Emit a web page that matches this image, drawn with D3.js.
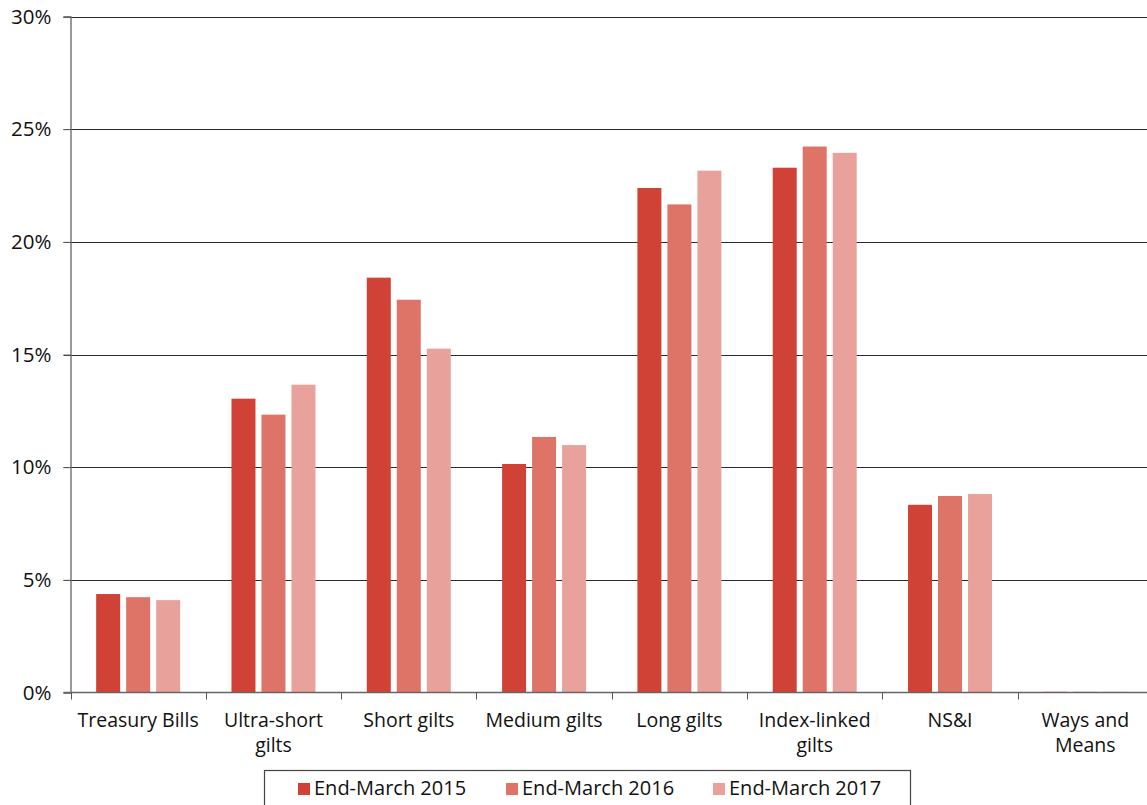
<!DOCTYPE html>
<html>
<head>
<meta charset="utf-8">
<script src="https://cdn.jsdelivr.net/npm/d3@7"></script>
<style>
	body { margin: 0; background: #fff; }
	text { font-family: "Open Sans", "Noto Sans", sans-serif; fill: #111; }
</style>
</head>
<body>
<div id="chart-area"></div>
<script>
// Data
let categories = [
	["Treasury Bills"],
	["Ultra-short", "gilts"],
	["Short gilts"],
	["Medium gilts"],
	["Long gilts"],
	["Index-linked", "gilts"],
	["NS&I"],
	["Ways and", "Means"]
];
let seriesNames = ["End-March 2015", "End-March 2016", "End-March 2017"];
let values2015 = [4.37, 13.04, 18.41, 10.14, 22.39, 23.29, 8.33, 0.03];
let values2016 = [4.23, 12.33, 17.43, 11.34, 21.66, 24.23, 8.72, 0.03];
let values2017 = [4.10, 13.66, 15.26, 10.98, 23.16, 23.95, 8.81, 0.03];
let yTicks = [0, 5, 10, 15, 20, 25, 30];

let colors = ["#d04236", "#de7367", "#e8a29b"];
let allValues = [values2015, values2016, values2017];

// SVG Size
let width = 1147,
	height = 805;

let plotLeft = 70.5,
	plotRight = 1153,
	plotTop = 16.5,
	plotBottom = 692.5;

let svg = d3.select("#chart-area").append("svg")
	.attr("width", width)
	.attr("height", height);

let catKeys = categories.map(c => c.join(" "));

let XScale = d3.scaleBand()
	.domain(catKeys)
	.range([plotLeft, plotRight]);

let innerScale = d3.scaleBand()
	.domain(seriesNames)
	.range([0, 84])
	.paddingInner(0.2);

let YScale = d3.scaleLinear()
	.domain([0, 30])
	.range([plotBottom, plotTop]);

// gridlines
svg.append("g")
	.selectAll("line")
	.data(yTicks.filter(d => d > 0))
	.enter()
	.append("line")
	.attr("x1", plotLeft - 7)
	.attr("x2", width)
	.attr("y1", d => Math.round(YScale(d)) + 0.5)
	.attr("y2", d => Math.round(YScale(d)) + 0.5)
	.attr("stroke", "#2a2a2a")
	.attr("stroke-width", 1);

// bars
let groupOffset = (XScale.bandwidth() - 84) / 2;
seriesNames.forEach((s, si) => {
	svg.append("g")
		.selectAll("rect")
		.data(allValues[si])
		.enter()
		.append("rect")
		.attr("x", (d, i) => XScale(catKeys[i]) + groupOffset + innerScale(s))
		.attr("y", d => YScale(d))
		.attr("width", innerScale.bandwidth())
		.attr("height", d => YScale(0) - YScale(d))
		.attr("fill", colors[si]);
});

// y axis
let yAxis = d3.axisLeft(YScale)
	.tickValues(yTicks)
	.tickSize(7)
	.tickFormat(d => d + "%");

let yG = svg.append("g")
	.attr("transform", "translate(" + plotLeft + ",0)")
	.call(yAxis);
yG.select(".domain").attr("stroke", "#666").attr("stroke-width", 1.3);
yG.selectAll(".tick line").attr("stroke", "#666");
yG.selectAll(".tick text")
	.attr("x", -19)
	.style("font-size", "20.5px")
	.style("font-family", "'Open Sans', sans-serif")
	.attr("fill", "#111");

// x axis line
svg.append("line")
	.attr("x1", plotLeft - 7)
	.attr("x2", width)
	.attr("y1", plotBottom)
	.attr("y2", plotBottom)
	.attr("stroke", "#666")
	.attr("stroke-width", 1.5);

// category ticks
svg.append("g")
	.selectAll("line")
	.data(catKeys)
	.enter()
	.append("line")
	.attr("x1", d => Math.round(XScale(d)) + 0.5)
	.attr("x2", d => Math.round(XScale(d)) + 0.5)
	.attr("y1", plotBottom)
	.attr("y2", plotBottom + 7)
	.attr("stroke", "#555");

// category labels
let labels = svg.append("g")
	.selectAll("text")
	.data(categories)
	.enter()
	.append("text")
	.attr("text-anchor", "middle")
	.style("font-size", "19.5px");

labels.selectAll("tspan")
	.data((d, i) => d.map(line => ({ line: line, key: catKeys[i] })))
	.enter()
	.append("tspan")
	.attr("x", d => XScale(d.key) + XScale.bandwidth() / 2)
	.attr("y", (d, j) => 727 + j * 25)
	.text(d => d.line);

// legend
svg.append("rect")
	.attr("x", 264.5)
	.attr("y", 770.5)
	.attr("width", 646)
	.attr("height", 50)
	.attr("fill", "none")
	.attr("stroke", "#444")
	.attr("stroke-width", 1.2);

let legendX = [298, 506, 713];
seriesNames.forEach((s, si) => {
	svg.append("rect")
		.attr("x", legendX[si])
		.attr("y", 783)
		.attr("width", 12)
		.attr("height", 12)
		.attr("fill", colors[si]);
	svg.append("text")
		.attr("x", legendX[si] + 16)
		.attr("y", 795)
		.style("font-size", "20px")
		.text(s);
});
</script>
</body>
</html>
